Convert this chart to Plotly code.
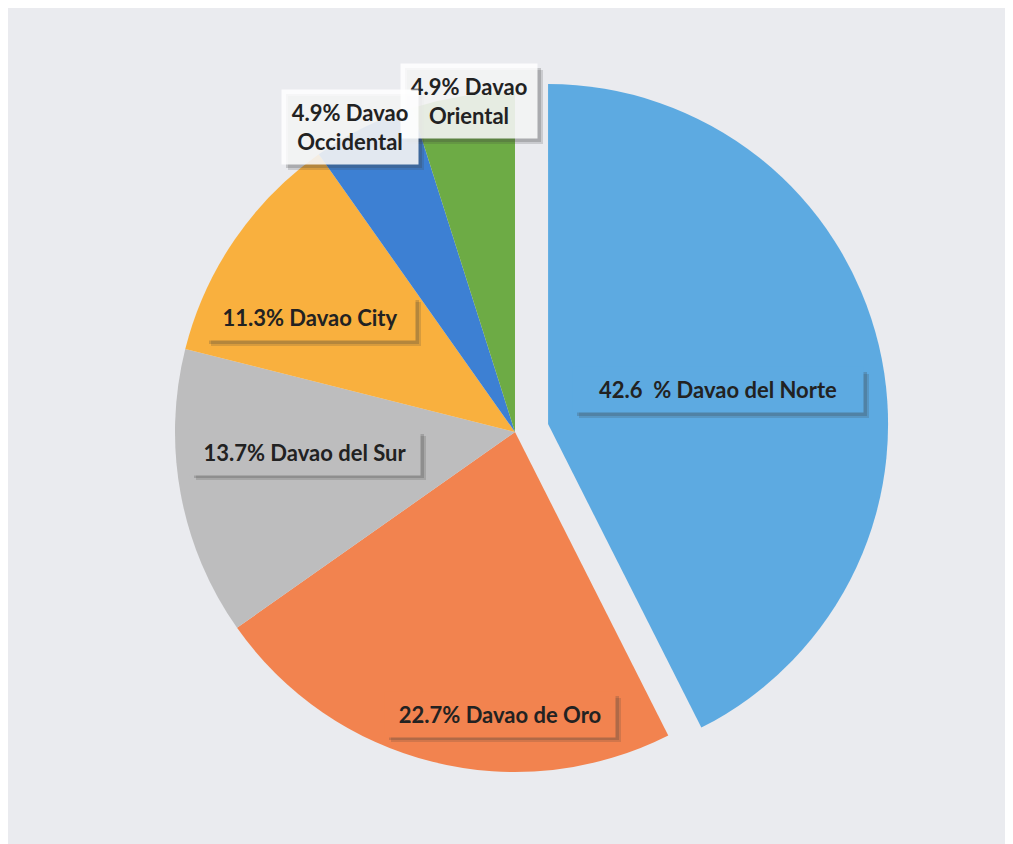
import plotly.graph_objects as go

# ---- data ----
labels = ["Davao del Norte", "Davao de Oro", "Davao del Sur", "Davao City",
          "Davao Occidental", "Davao Oriental"]
values = [42.6, 22.7, 13.7, 11.3, 4.9, 4.9]
label_texts = ["42.6  % Davao del Norte", "22.7% Davao de Oro", "13.7% Davao del Sur",
               "11.3% Davao City", "4.9% Davao<br>Occidental", "4.9% Davao<br>Oriental"]

# ---- styles ----
colors = ["#5DAAE1", "#F2834F", "#BDBDBE", "#F9B03E", "#3D80D3", "#6DAB45"]
pulls = [0.1, 0, 0, 0, 0, 0]
box_bg = ["#5DAAE1", "#F2834F", "#BDBDBE", "#F9B03E",
          "rgba(255,255,255,0.85)", "rgba(255,255,255,0.85)"]
# label box centres in page pixels (layout only)
label_px = [(718, 390), (500, 714), (305, 452), (310, 318), (350, 127), (469, 101)]
box_w = [272, 212, 212, 192, 118, 118]
draw_order = [0, 1, 2, 3, 5, 4]  # Occidental label drawn above Oriental

W, H = 1013, 844
OFF = 8  # page body margin
PAD = 9
cx, cy, R = 515, 432, 340
half = R * (1 + max(pulls))


def px2x(px):
    return (px - OFF) / W


def py2y(py):
    return 1 - (py - OFF) / H


fig = go.Figure(go.Pie(
    labels=labels, values=values, sort=False, direction="clockwise", rotation=0,
    pull=pulls, marker=dict(colors=colors, line=dict(width=0)),
    textinfo="none", hoverinfo="label+percent", showlegend=False,
    domain=dict(x=[px2x(cx - half), px2x(cx + half)],
                y=[py2y(cy + half), py2y(cy - half)]),
))

anns, shapes = [], []
for i in draw_order:
    txt, (px, py), bg, w = label_texts[i], label_px[i], box_bg[i], box_w[i]
    nlines = txt.count("<br>") + 1
    bh = 44 if nlines == 1 else 74
    bw = w + 2 * PAD
    # soft drop shadow (two layers)
    for d, a in ((6, 0.18), (4, 0.22)):
        shapes.append(dict(type="rect", xref="paper", yref="paper", layer="above",
                           x0=px2x(px - bw / 2 + d), x1=px2x(px + bw / 2 + d),
                           y0=py2y(py + bh / 2 + d), y1=py2y(py - bh / 2 + d),
                           fillcolor="rgba(60,60,60,%s)" % a, line=dict(width=0)))
    anns.append(dict(x=px2x(px), y=py2y(py), xref="paper", yref="paper",
                     text="<b>" + txt + "</b>", showarrow=False, width=w, align="center",
                     xanchor="center", yanchor="middle", borderpad=PAD,
                     font=dict(family="Lato", size=22, color="#222222"), bgcolor=bg))

fig.update_layout(
    width=W, height=H, margin=dict(l=0, r=0, t=0, b=0),
    paper_bgcolor="#EAEBEF", plot_bgcolor="#EAEBEF",
    annotations=anns, shapes=shapes,
)
fig.write_html("out.html")
